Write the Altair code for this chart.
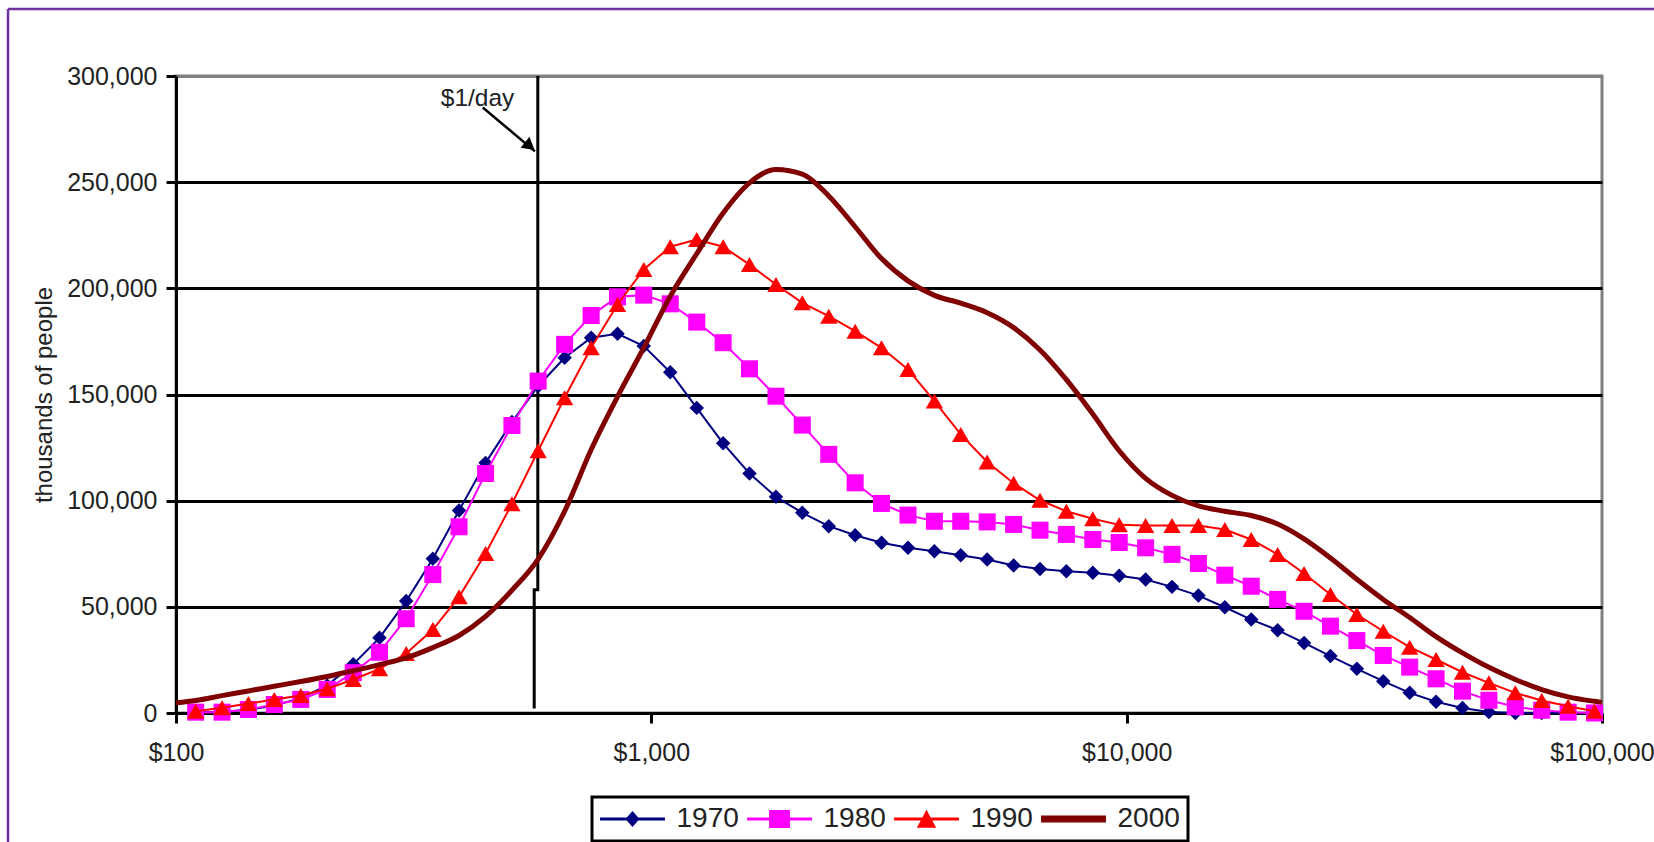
import altair as alt
import pandas as pd

# ---------------- data ----------------
INCOME = [110, 125, 142, 161, 183, 208, 236, 268, 305, 347,
          394, 448, 509, 578, 657, 747, 849, 964, 1096, 1246,
          1416, 1609, 1829, 2078, 2362, 2684, 3050, 3467, 3940, 4477,
          5088, 5783, 6572, 7468, 8487, 9645, 10961, 12457, 14157, 16089,
          18284, 20779, 23615, 26837, 30499, 34661, 39391, 44767, 50876, 57818,
          65708, 74675, 84866, 96447]

Y1970 = [300, 600, 1500, 3500, 7000, 13000, 23000, 35400, 52700, 72600,
         95400, 117800, 137000, 154000, 167300, 176700, 178600, 172800, 160500, 143700,
         127000, 112800, 101800, 94300, 88000, 83700, 80200, 77800, 76200, 74300,
         72300, 69500, 67800, 66800, 66000, 64600, 62900, 59400, 55300, 49800,
         44000, 39000, 33000, 26800, 20800, 15000, 9500, 5300, 2400, 500,
         0, 0, 0, 0]

Y1980 = [400, 400, 1650, 4000, 6400, 11100, 19000, 28600, 44400, 65200,
         87700, 112800, 135400, 156300, 173600, 187200, 196000, 196800, 192700, 184100,
         174400, 162100, 149200, 135600, 121800, 108400, 98700, 93200, 90300, 90300,
         90000, 88800, 86100, 84100, 81700, 80300, 77800, 74700, 70400, 64900,
         59700, 53500, 47900, 40900, 34100, 27100, 21600, 16100, 10300, 6000,
         2900, 1300, 400, 0]

Y1990 = [850, 2450, 4470, 6360, 8240, 11400, 15800, 20800, 28000, 39300,
         54700, 75100, 98500, 123500, 148500, 172000, 192400, 208900, 219600, 223000,
         219600, 211200, 201800, 193200, 186900, 179800, 172000, 161800, 146900, 131200,
         118200, 108200, 100200, 95000, 91500, 88600, 88300, 88300, 88300, 86400,
         81700, 74700, 65700, 55800, 46400, 38500, 31000, 25200, 19200, 14200,
         9500, 5900, 3200, 850]

INCOME_2000 = [100] + INCOME + [100000]
Y2000 = [4800,
         5900, 8200, 10400, 12600, 14800, 17200, 19900, 22800, 26000, 30800,
         36500, 45500, 57800, 72500, 95000, 124000, 149000, 172000, 196300, 216300,
         235500, 249700, 256000, 253800, 243500, 229000, 214000, 203500, 196700, 193000,
         188500, 181500, 171000, 157000, 140800, 123500, 110500, 102500, 97500, 95000,
         93000, 89000, 82000, 73000, 63000, 53500, 45000, 36000, 28300, 21500,
         15800, 11000, 7600, 5500,
         5000]

SERIES = ["1970", "1980", "1990", "2000"]
COLORS = ["#000080", "#FF00FF", "#FF0000", "#800000"]

X_TICKS = [100, 1000, 10000, 100000]
Y_TICKS = [0, 50000, 100000, 150000, 200000, 250000, 300000]

# $1/day marker line (with the small jog seen in the picture)
DAY_X = [577, 577, 567, 567]
DAY_Y = [300000, 58000, 58000, 2100]
DAY_ORDER = [0, 1, 2, 3]

# annotation arrow and label
ARROW_FROM = (442, 285200)
ARROW_TO = (569, 264500)
ARROW_HEAD = (555, 267000)
LABEL_POS = (431, 289200)
LABEL_TEXT = "$1/day"

# legend symbols: line segment + marker, as custom paths
PATHS = [
    "M-2.95,-0.13H2.95V0.13H-2.95Z M0,-0.72L0.64,0L0,0.72L-0.64,0Z",
    "M-2.95,-0.13H2.95V0.13H-2.95Z M-0.95,-0.82H0.95V0.82H-0.95Z",
    "M-2.95,-0.13H2.95V0.13H-2.95Z M0,-0.85L0.88,0.8L-0.88,0.8Z",
    "M-2.95,-0.32H2.95V0.32H-2.95Z",
]

# ---------------- tables ----------------
rows = []
for name, ys in zip(SERIES[:3], [Y1970, Y1980, Y1990]):
    for inc, v in zip(INCOME, ys):
        rows.append({"income": inc, "value": v, "series": name})
for inc, v in zip(INCOME_2000, Y2000):
    rows.append({"income": inc, "value": v, "series": "2000"})
df = pd.DataFrame(rows)

day_df = pd.DataFrame({"income": DAY_X, "value": DAY_Y, "o": DAY_ORDER})
arrow_df = pd.DataFrame({"income": [ARROW_FROM[0]], "value": [ARROW_FROM[1]],
                         "income2": [ARROW_TO[0]], "value2": [ARROW_TO[1]]})
head_df = pd.DataFrame({"income": [ARROW_HEAD[0]], "value": [ARROW_HEAD[1]]})
label_df = pd.DataFrame({"income": [LABEL_POS[0]], "value": [LABEL_POS[1]], "t": [LABEL_TEXT]})
one = pd.DataFrame({"a": [0]})

# ---------------- styling ----------------
FONT = "Liberation Sans"
TXT = "#222222"
PURPLE = "#7030A0"
W, H = 1426, 637
PAD_L, PAD_T, PAD_R, PAD_B = 176, 76, 52, 129

xaxis = alt.Axis(values=X_TICKS, format="$,.0f", grid=False, labelFlush=False,
                 labelOverlap=False, domainColor="black", domainWidth=3,
                 tickColor="black", tickWidth=3, tickSize=10,
                 labelFont=FONT, labelFontSize=25, labelColor=TXT, labelPadding=17)
yaxis = alt.Axis(values=Y_TICKS, format=",.0f", grid=True,
                 gridColor={"condition": {"test": "datum.value === 300000", "value": "#808080"},
                            "value": "#000000"},
                 gridWidth=3, labelFlush=False, domainColor="black", domainWidth=3,
                 tickColor="black", tickWidth=3, tickSize=10,
                 labelFont=FONT, labelFontSize=25, labelColor=TXT, labelPadding=9,
                 titleFont=FONT, titleFontSize=24, titleFontWeight="normal",
                 titleColor=TXT, titlePadding=10)

X = alt.X("income:Q", scale=alt.Scale(type="log", domain=[100, 100000], nice=False),
          axis=xaxis, title=None)
Y = alt.Y("value:Q", scale=alt.Scale(domain=[0, 300000], nice=False),
          axis=yaxis, title="thousands of people")

base = alt.Chart(df)

def series_filter(name):
    return alt.datum.series == name

layers = []

# purple outer frame (decoration)
layers.append(alt.Chart(one).mark_rule(color=PURPLE, strokeWidth=2.5).encode(
    x=alt.value(-168), x2=alt.value(1654 - PAD_L), y=alt.value(9 - PAD_T)))
layers.append(alt.Chart(one).mark_rule(color=PURPLE, strokeWidth=2.5).encode(
    x=alt.value(-168), y=alt.value(9 - PAD_T), y2=alt.value(842 - PAD_T)))

# $1/day vertical line
layers.append(alt.Chart(day_df).mark_line(color="black", strokeWidth=3).encode(
    x=X, y=Y, order="o:Q"))

shapes = ["diamond", "square", "triangle-up"]
sizes = [210, 290, 300]
for name, col, shp, sz in zip(SERIES[:3], COLORS[:3], shapes, sizes):
    layers.append(base.mark_line(color=col, strokeWidth=2).encode(x=X, y=Y)
                  .transform_filter(series_filter(name)))
    layers.append(base.mark_point(shape=shp, filled=True, size=sz, opacity=1, color=col)
                  .encode(x=X, y=Y).transform_filter(series_filter(name)))

layers.append(base.mark_line(color=COLORS[3], strokeWidth=5, interpolate="monotone")
              .encode(x=X, y=Y).transform_filter(series_filter("2000")))

# arrow + label
layers.append(alt.Chart(arrow_df).mark_rule(color="black", strokeWidth=2.5).encode(
    x=X, y=Y, x2=alt.X2("income2:Q"), y2=alt.Y2("value2:Q")))
layers.append(alt.Chart(head_df).mark_point(shape="triangle-right", filled=True, size=196,
                                            angle=39, color="black", opacity=1)
              .encode(x=X, y=Y))
layers.append(alt.Chart(label_df).mark_text(font=FONT, fontSize=24.5, color=TXT,
                                            align="center", baseline="middle")
              .encode(x=X, y=Y, text="t:N"))

# legend driver (no marks drawn; scale domains are explicit)
legend = alt.Legend(title=None, orient="none", legendX=416, legendY=721,
                    direction="horizontal", columns=4, columnPadding=8,
                    symbolSize=484, symbolStrokeWidth=0, symbolOffset=18.5,
                    labelOffset=30, labelFont=FONT, labelFontSize=28, labelColor=TXT,
                    padding=8, strokeColor="black", symbolOpacity=1)
layers.append(base.mark_point(filled=True, opacity=1).encode(
    x=X, y=Y,
    color=alt.Color("series:N", scale=alt.Scale(domain=SERIES, range=COLORS), legend=legend),
    shape=alt.Shape("series:N", scale=alt.Scale(domain=SERIES, range=PATHS), legend=legend),
).transform_filter("false"))

chart = alt.layer(*layers).properties(
    width=W, height=H,
    padding={"left": PAD_L, "top": PAD_T, "right": PAD_R, "bottom": PAD_B},
    autosize=alt.AutoSizeParams(type="none"),
    background="white",
).configure_view(stroke="#808080", strokeWidth=3).configure_legend(strokeWidth=3)

chart.save("out.html", embed_options={"renderer": "svg", "actions": False})
